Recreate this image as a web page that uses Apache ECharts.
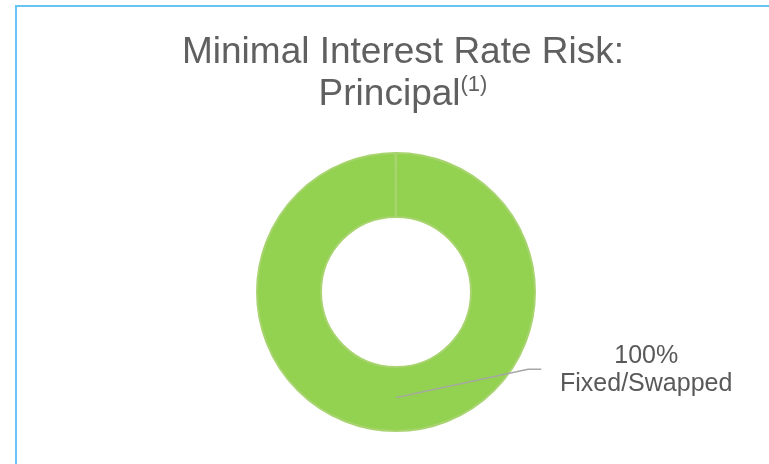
<!DOCTYPE html>
<html>
<head>
<meta charset="utf-8">
<title>Minimal Interest Rate Risk</title>
<script src="https://cdn.jsdelivr.net/npm/echarts@6/dist/echarts.min.js"></script>
<style>
    html, body { margin: 0; padding: 0; background: #fff; }
    #wrap { position: relative; width: 769px; height: 464px; overflow: hidden; }
    #container { width: 769px; height: 464px; }
    #frame {
        position: absolute; left: 15px; top: 5px; width: 800px; height: 500px;
        border: 2px solid #66c5f2; pointer-events: none;
    }
</style>
</head>
<body>
<div id="wrap">
    <div id="container"></div>
    <div id="frame"></div>
</div>
<script>
    // data
    var titleLines = ['Minimal Interest Rate Risk:', 'Principal'];
    var footnote = '(1)';
    var categories = ['Fixed/Swapped'];
    var values = [100];

    var pieCenter = [396, 292];
    var pieRadius = [75, 139];

    var dom = document.getElementById('container');
    var myChart = echarts.init(dom);

    var pieData = categories.map(function (name, i) {
        return { name: name, value: values[i] };
    });

    // ring itself
    var ringSeries = {
        type: 'pie',
        z: 2,
        center: pieCenter,
        radius: pieRadius,
        startAngle: 90,
        endAngle: -269.8,
        clockwise: true,
        silent: true,
        emphasis: { scale: false },
        itemStyle: {
            color: '#93d151',
            borderColor: '#a8d46f',
            borderWidth: 2
        },
        label: { show: false },
        labelLine: { show: false },
        data: pieData
    };

    // same data again, transparent and on a higher z, so the label line lies over the ring
    var labelSeries = {
        type: 'pie',
        z: 4,
        center: pieCenter,
        radius: pieRadius,
        startAngle: 90,
        clockwise: true,
        silent: true,
        emphasis: { scale: false },
        itemStyle: { color: 'rgba(0,0,0,0)' },
        label: {
            show: true,
            position: 'outside',
            formatter: '{d}%\n{b}',
            fontFamily: 'Liberation Sans',
            fontSize: 25,
            lineHeight: 28,
            color: '#595959',
            align: 'center'
        },
        labelLine: {
            show: true,
            lineStyle: { color: '#a6a6a6', width: 1.5 }
        },
        labelLayout: function (params) {
            var cx = pieCenter[0], cy = pieCenter[1], r = pieRadius[1];
            return {
                x: cx + r * 1.8,
                y: cy + r * 0.565,
                align: 'center',
                verticalAlign: 'middle',
                labelLinePoints: [
                    [cx, cy + r * 0.76],
                    [cx + r * 0.95, cy + r * 0.555],
                    [cx + r * 1.045, cy + r * 0.555]
                ]
            };
        },
        data: pieData
    };

    var option = {
        animation: false,
        title: {
            text: titleLines[0] + '\n' + titleLines[1] + '{sup|' + footnote + '}',
            left: 398,
            top: 27,
            textAlign: 'center',
            textStyle: {
                fontFamily: 'Liberation Sans',
                fontWeight: 'normal',
                fontSize: 37,
                lineHeight: 42,
                color: '#606060',
                rich: {
                    sup: {
                        fontFamily: 'Liberation Sans',
                        fontSize: 22,
                        lineHeight: 22,
                        verticalAlign: 'top',
                        color: '#606060'
                    }
                }
            }
        },
        series: [ringSeries, labelSeries]
    };

    myChart.setOption(option, true);
</script>
</body>
</html>
